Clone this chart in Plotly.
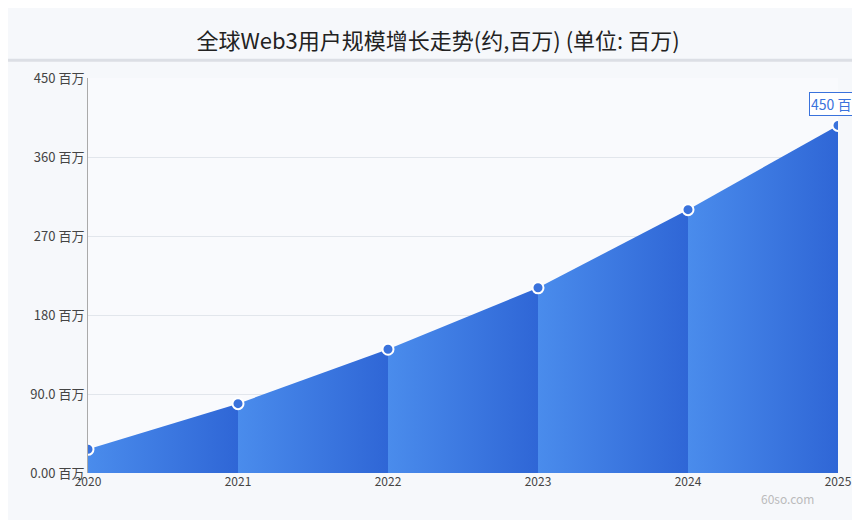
import plotly.graph_objects as go

years = [2020, 2021, 2022, 2023, 2024, 2025]
users = [27, 79, 141, 211, 300, 396]
y_ticks = [0, 90, 180, 270, 360, 450]
y_tick_labels = ["0.00 百万", "90.0 百万", "180 百万", "270 百万", "360 百万", "450 百万"]

fig = go.Figure()

# one filled segment per year, each with its own left-to-right gradient
for i in range(len(years) - 1):
    fig.add_trace(go.Scatter(
        x=years[i:i + 2], y=users[i:i + 2],
        mode="lines", line=dict(width=0, color="#3a74e0"),
        fill="tozeroy",
        fillgradient=dict(type="horizontal",
                          colorscale=[[0, "#4a8cec"], [1, "#2f66d6"]]),
        hoverinfo="skip", showlegend=False,
    ))

fig.add_trace(go.Scatter(
    x=years, y=users, mode="markers",
    marker=dict(size=11, color="#3a72dc", line=dict(color="white", width=2)),
    showlegend=False,
))

fig.update_layout(
    width=860, height=520,
    margin=dict(l=80, r=30, t=70, b=55),
    paper_bgcolor="#f6f8fb", plot_bgcolor="#f9fafd",
    font=dict(family="Noto Sans CJK SC", color="#444"),
    title=dict(text="全球Web3用户规模增长走势(约,百万) (单位: 百万)",
               x=0.5, y=0.95, xanchor="center",
               font=dict(size=22, color="#222")),
    xaxis=dict(tickvals=years, range=[2020, 2025], showgrid=False,
               tickfont=dict(size=12), zeroline=False, automargin=False),
    yaxis=dict(tickvals=y_ticks, ticktext=y_tick_labels, range=[0, 450],
               gridcolor="#e2e6ec", zeroline=False, showline=True,
               linecolor="#aaa", tickfont=dict(size=13), automargin=False),
    shapes=[dict(type="line", xref="paper", yref="paper", x0=-0.2, x1=1.2,
                 y0=1.045, y1=1.045, line=dict(color="#dcdfe5", width=3))],
    annotations=[
        dict(text="450 百万", x=2025, y=users[-1], xref="x", yref="y",
             xanchor="center", yanchor="bottom", yshift=9,
             showarrow=False, bordercolor="#3a72dc", borderwidth=1,
             bgcolor="white", font=dict(size=14, color="#3a72dc")),
        dict(text="60so.com", xref="paper", yref="paper", x=0.97, y=-0.09,
             showarrow=False, font=dict(size=12, color="#bbb")),
    ],
)

fig.write_html("out.html")
